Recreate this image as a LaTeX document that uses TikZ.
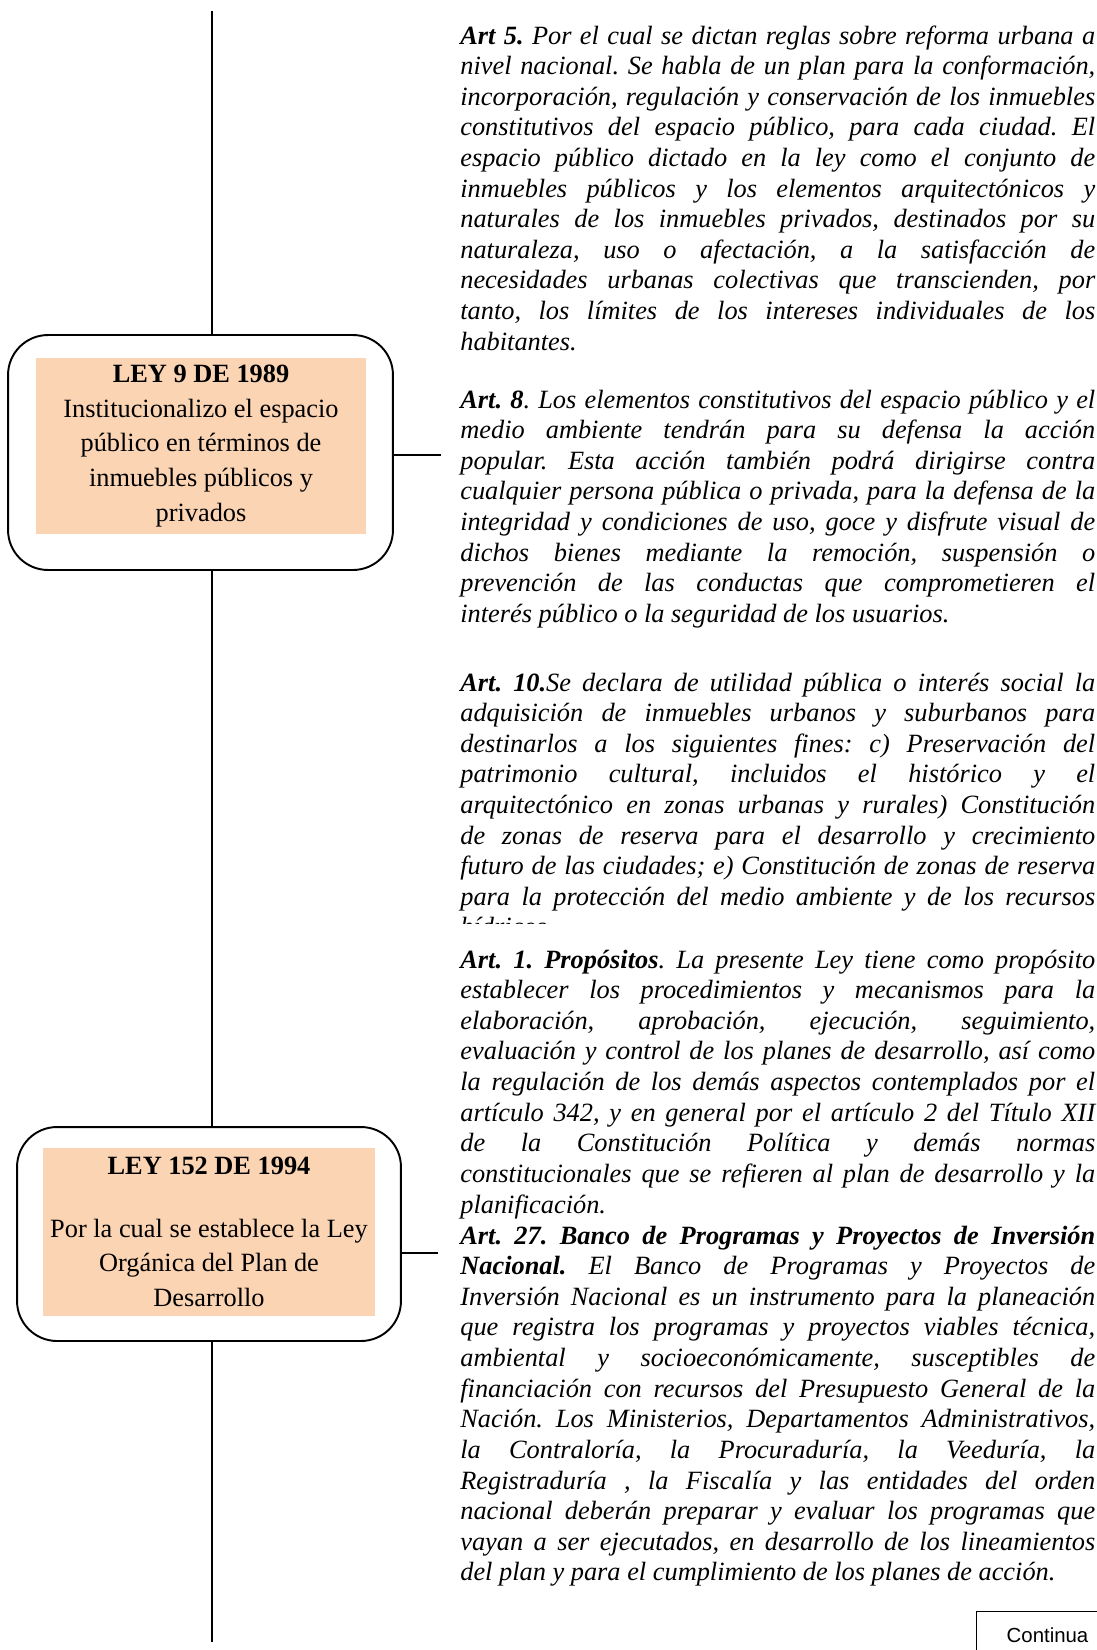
\documentclass[tikz,border=0pt]{standalone}
\usepackage{fontspec}
\setmainfont{Liberation Serif}
\newfontfamily\arialfont{Liberation Sans}
\usepackage{tikz}
\usetikzlibrary{calc}
\definecolor{durazno}{HTML}{FBD4B4}
\tikzstyle{ley} = [draw, line width=1.1pt, rounded corners=0.8cm]
\tikzstyle{relleno} = [fill=durazno, align=center, inner sep=0pt,
    font=\fontsize{15pt}{19.7pt}\selectfont]
\tikzstyle{articulo} = [anchor=base west, text width=12.7cm, align=justify,
    inner sep=0pt, font=\fontsize{15pt}{17.43pt}\selectfont\itshape]
\tikzset{linea/.style={line width=1.1pt}}
\hyphenpenalty=10000
\tolerance=10000
\frenchspacing

\begin{document}
\begin{tikzpicture}[x=0.02cm, y=-0.02cm]
\useasboundingbox (0,0) rectangle (1097,1650);
%leyes
\node[ley, minimum width=7.7cm, minimum height=4.7cm] (ley9) at (200.5,452.5) {};
\node[relleno, minimum width=6.6cm, minimum height=3.52cm] (txt9) at (201,446)
    {\textbf{LEY 9 DE 1989}\\Institucionalizo el espacio\\público en términos de\\inmuebles públicos y\\privados};
\node[ley, minimum width=7.68cm, minimum height=4.28cm] (ley152) at (209,1234) {};
\node[relleno, minimum width=6.64cm, minimum height=3.36cm] (txt152) at (209,1232)
    {\textbf{LEY 152 DE 1994}\\[0.554cm]Por la cual se establece la Ley\\Orgánica del Plan de\\Desarrollo};
%linea de tiempo
\coordinate (t0) at (212,11);
\coordinate (t5) at (212,1642);
\coordinate (t1) at (t0 |- ley9.north);
\coordinate (t2) at (t0 |- ley9.south);
\coordinate (t3) at (t0 |- ley152.north);
\coordinate (t4) at (t0 |- ley152.south);
\foreach \from/\to in {t0/t1, t2/t3, t4/t5}
{\draw[linea] (\from) -- (\to);}
%conectores
\coordinate (c9) at (441,455);
\coordinate (c152) at (438,1253);
\draw[linea] (ley9.east |- c9) -- (c9);
\draw[linea] (ley152.east |- c152) -- (c152);
%articulos
\node[articulo] (art5) at (460,44) {\textbf{Art 5.} Por el cual se dictan reglas sobre reforma urbana a\linebreak
nivel nacional. Se habla de un plan para la conformación,\linebreak
incorporación, regulación y conservación de los inmuebles\linebreak
constitutivos del espacio público, para cada ciudad. El\linebreak
espacio público dictado en la ley como el conjunto de\linebreak
inmuebles públicos y los elementos arquitectónicos y\linebreak
naturales de los inmuebles privados, destinados por su\linebreak
naturaleza, uso o afectación, a la satisfacción de\linebreak
necesidades urbanas colectivas que transcienden, por\linebreak
tanto, los límites de los intereses individuales de los\linebreak
habitantes.};
\node[articulo] (art8) at (460,408) {\textbf{Art. 8}. Los elementos constitutivos del espacio público y el\linebreak
medio ambiente tendrán para su defensa la acción\linebreak
popular. Esta acción también podrá dirigirse contra\linebreak
cualquier persona pública o privada, para la defensa de la\linebreak
integridad y condiciones de uso, goce y disfrute visual de\linebreak
dichos bienes mediante la remoción, suspensión o\linebreak
prevención de las conductas que comprometieren el\linebreak
interés público o la seguridad de los usuarios.};
\begin{scope}
\clip (440,600) rectangle (1097,923);
\node[articulo] (art10) at (460,691) {\textbf{Art. 10.}Se declara de utilidad pública o interés social la\linebreak
adquisición de inmuebles urbanos y suburbanos para\linebreak
destinarlos a los siguientes fines: c) Preservación del\linebreak
patrimonio cultural, incluidos el histórico y el\linebreak
arquitectónico en zonas urbanas y rurales) Constitución\linebreak
de zonas de reserva para el desarrollo y crecimiento\linebreak
futuro de las ciudades; e) Constitución de zonas de reserva\linebreak
para la protección del medio ambiente y de los recursos\linebreak
hídricos};
\end{scope}
\node[articulo] (art1) at (460,968) {\textbf{Art. 1. Propósitos}. La presente Ley tiene como propósito\linebreak
establecer los procedimientos y mecanismos para la\linebreak
elaboración, aprobación, ejecución, seguimiento,\linebreak
evaluación y control de los planes de desarrollo, así como\linebreak
la regulación de los demás aspectos contemplados por el\linebreak
artículo 342, y en general por el artículo 2 del Título XII\linebreak
de la Constitución Política y demás normas\linebreak
constitucionales que se refieren al plan de desarrollo y la\linebreak
planificación.};
\node[articulo] (art27) at (460,1244) {\textbf{Art. 27. Banco de Programas y Proyectos de Inversión\linebreak
Nacional.} El Banco de Programas y Proyectos de\linebreak
Inversión Nacional es un instrumento para la planeación\linebreak
que registra los programas y proyectos viables técnica,\linebreak
ambiental y socioeconómicamente, susceptibles de\linebreak
financiación con recursos del Presupuesto General de la\linebreak
Nación. Los Ministerios, Departamentos Administrativos,\linebreak
la Contraloría, la Procuraduría, la Veeduría, la\linebreak
Registraduría , la Fiscalía y las entidades del orden\linebreak
nacional deberán preparar y evaluar los programas que\linebreak
vayan a ser ejecutados, en desarrollo de los lineamientos\linebreak
del plan y para el cumplimiento de los planes de acción.};
%continua
\node[draw, line width=0.6pt, anchor=north west, minimum width=2.84cm, inner ysep=0.32cm,
    font=\arialfont\fontsize{11.6pt}{14pt}\selectfont] (sigue) at (976,1611) {Continua};
\end{tikzpicture}
\end{document}
